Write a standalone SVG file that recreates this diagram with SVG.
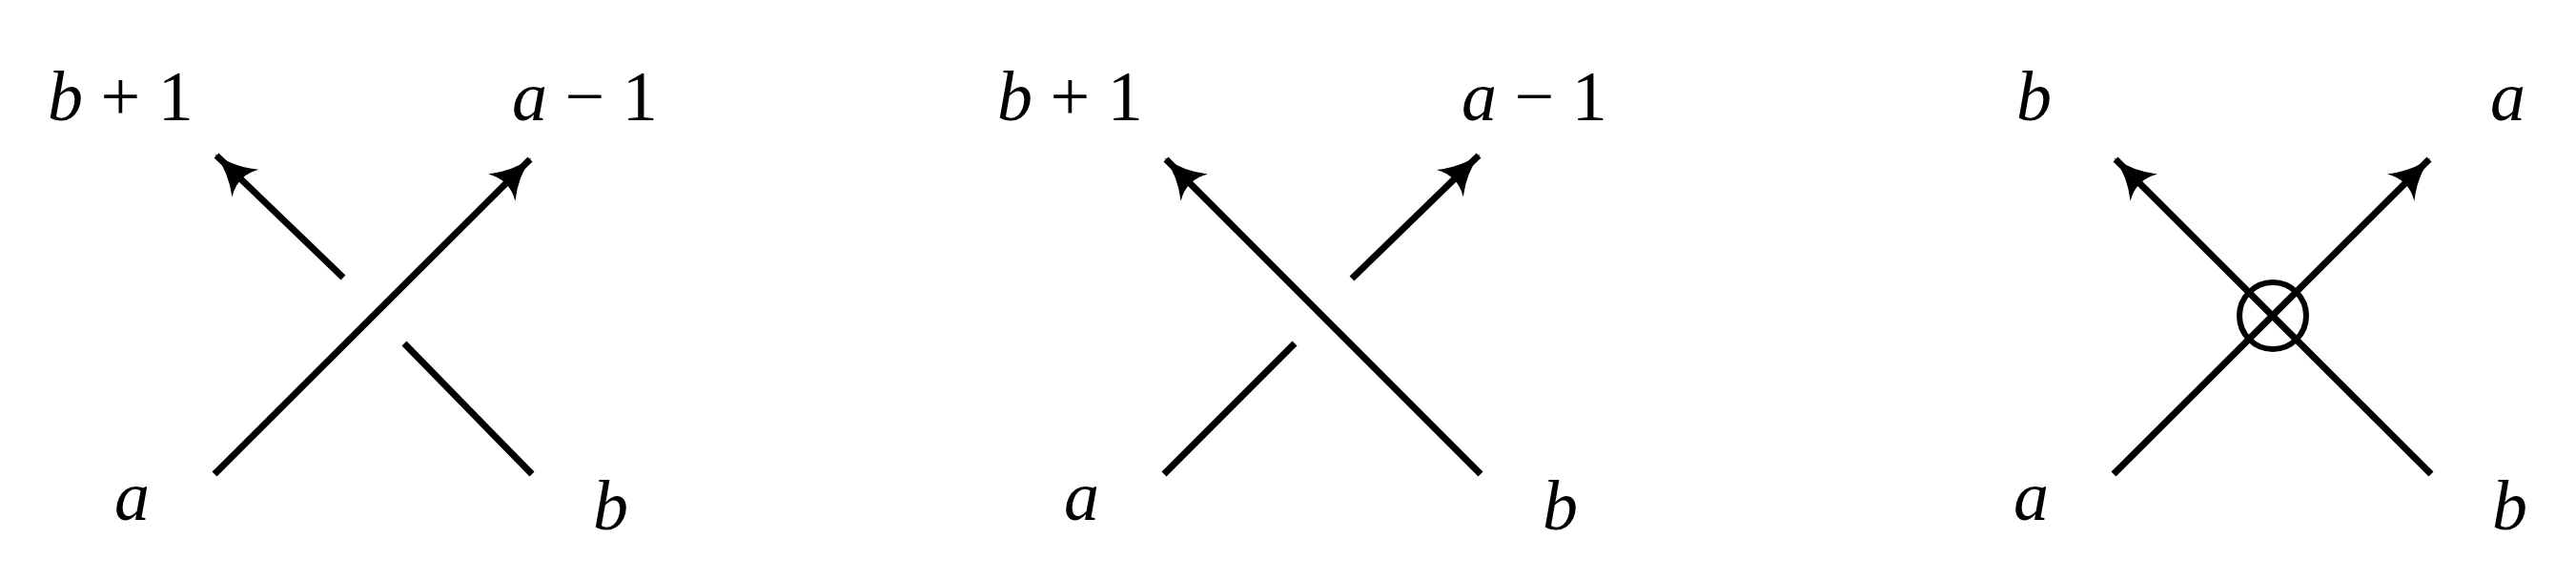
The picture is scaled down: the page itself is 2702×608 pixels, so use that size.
<svg xmlns="http://www.w3.org/2000/svg" width="2702" height="608" viewBox="0 0 2702 608">
<style>
text{font-family:"Liberation Serif","DejaVu Serif",serif;font-size:74px;fill:#000}
.i{font-style:italic}
.s{stroke:#000;stroke-width:7;fill:none}
</style>
<defs>
<marker id="ah" markerUnits="userSpaceOnUse" viewBox="-46 -22 50 44" markerWidth="50" markerHeight="44" refX="0" refY="0" orient="auto">
<path d="M2,0 Q-22,4 -42,20 Q-30,0 -42,-20 Q-22,-4 2,0 Z" fill="#000"/>
</marker>
</defs>
<rect width="2702" height="608" fill="#fff"/>
<g id="labels1">
<text x="50" y="126"><tspan class="i">b</tspan> + 1</text>
<text x="537" y="126"><tspan class="i">a</tspan> − 1</text>
<text class="i" x="120" y="545">a</text>
<text class="i" x="622" y="555">b</text>
</g>
<g id="labels2">
<text x="1046" y="126"><tspan class="i">b</tspan> + 1</text>
<text x="1533" y="126"><tspan class="i">a</tspan> − 1</text>
<text class="i" x="1116" y="545">a</text>
<text class="i" x="1618" y="555">b</text>
</g>
<g id="labels3">
<text class="i" x="2115" y="126">b</text>
<text class="i" x="2612" y="126">a</text>
<text class="i" x="2112" y="545">a</text>
<text class="i" x="2614" y="555">b</text>
</g>
<g id="connectors">
<line class="s" x1="225" y1="497" x2="556" y2="167" marker-end="url(#ah)"/>
<line class="s" x1="360" y1="291" x2="227" y2="163" marker-end="url(#ah)"/>
<line class="s" x1="424" y1="360" x2="558" y2="497"/>
<line class="s" x1="1553" y1="497" x2="1223" y2="167" marker-end="url(#ah)"/>
<line class="s" x1="1221" y1="497" x2="1358" y2="360"/>
<line class="s" x1="1418" y1="292" x2="1551" y2="163" marker-end="url(#ah)"/>
<line class="s" x1="2217" y1="497" x2="2548" y2="167" marker-end="url(#ah)"/>
<line class="s" x1="2550" y1="497" x2="2219" y2="167" marker-end="url(#ah)"/>
</g>
<g id="crossing3">
<circle cx="2384" cy="331" r="35" fill="none" stroke="#000" stroke-width="6"/>
</g>
</svg>
